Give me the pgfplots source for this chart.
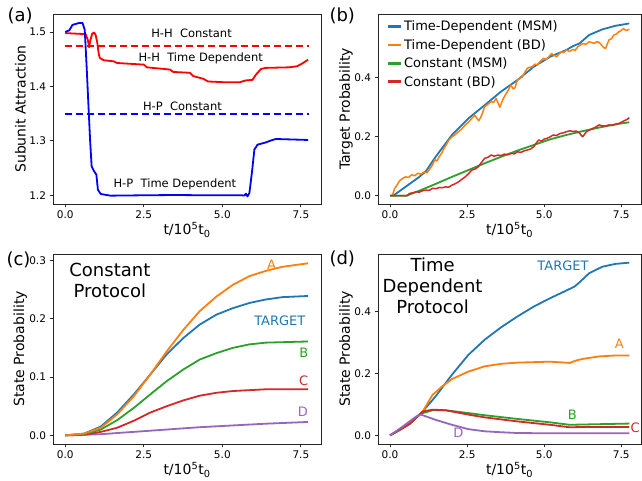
\documentclass[border=0pt]{standalone}
\usepackage{pgfplots}
\pgfplotsset{compat=1.18}
\usepackage{fontspec}
\setmainfont{DejaVu Sans}

\definecolor{tabblue}{HTML}{1F77B4}
\definecolor{taborange}{HTML}{FF7F0E}
\definecolor{tabgreen}{HTML}{2CA02C}
\definecolor{tabred}{HTML}{D62728}
\definecolor{tabpurple}{HTML}{9467BD}
\definecolor{purered}{HTML}{FF0000}
\definecolor{pureblue}{HTML}{0000FF}

\pgfplotsset{
  panel/.style={
    scale only axis, height=190pt,
    xmin=-0.39, xmax=8.14,
    xtick={0,2.5,5,7.5}, xticklabels={0.0,2.5,5.0,7.5},
    tick align=outside, xtick pos=left, ytick pos=left,
    major tick length=3.5pt,
    tick style={black!85, line width=0.8pt},
    axis line style={black!85, line width=0.8pt},
    ticklabel style={font=\fontsize{10.5}{12}\selectfont},
    label style={font=\fontsize{14}{16}\selectfont},
    xlabel={t/10\textsuperscript{5}t\textsubscript{0}},
    xlabel style={at={(axis description cs:0.5,-0.137)}, anchor=center},
    ylabel style={at={(axis description cs:-0.122,0.5)}, anchor=center},
    no markers, clip mode=individual,
    every axis plot/.append style={line width=1.8pt, line join=round},
  },
}
\tikzset{
  intext/.style={font=\fontsize{11.5}{13}\selectfont},
  curvelab/.style={font=\fontsize{13}{15}\selectfont},
}

\pgfplotstableread{
t    hh    hp
0    1.475 1.35
2.5  1.475 1.35
5    1.475 1.35
7.75 1.475 1.35
}\consttab

\begin{document}
\begin{tikzpicture}
\useasboundingbox (0,0) rectangle (642pt,481pt);

% (a) subunit attraction
\begin{axis}[panel, name=pa, at={(53pt,277pt)}, anchor=south west, width=268pt,
  ymin=1.184, ymax=1.533,
  ytick={1.2,1.3,1.4,1.5}, yticklabels={1.2,1.3,1.4,1.5},
  ylabel={Subunit Attraction}]
\addplot[draw=pureblue, line width=1.8pt, dash pattern=on 7pt off 4pt] table[x=t, y=hp] {\consttab};
\addplot[draw=purered, line width=1.9pt, dash pattern=on 7pt off 4pt] table[x=t, y=hh] {\consttab};
\addplot[color=purered] coordinates {
(0,1.498) (0.3,1.497) (0.65,1.496) (0.72,1.485) (0.76,1.472) (0.80,1.485)
(0.86,1.497) (0.92,1.499) (0.97,1.494) (1.02,1.48) (1.06,1.462) (1.1,1.452)
(1.23,1.448) (1.55,1.446) (1.65,1.443) (2.5,1.44) (2.6,1.435) (3.33,1.431)
(3.44,1.4265) (3.97,1.425) (4.07,1.419) (4.39,1.414) (4.55,1.409) (5.12,1.4075)
(5.54,1.4075) (5.75,1.411) (5.96,1.412) (6.07,1.4216) (6.23,1.432) (6.38,1.434)
(7.12,1.435) (7.38,1.437) (7.54,1.442) (7.73,1.449)};
\addplot[color=pureblue] coordinates {
(0,1.5) (0.13,1.503) (0.23,1.513) (0.44,1.5165) (0.55,1.5165) (0.62,1.504)
(0.68,1.437) (0.74,1.363) (0.79,1.302) (0.84,1.253) (0.92,1.244) (0.99,1.238)
(1.04,1.21) (1.13,1.2024) (1.44,1.1993) (2.5,1.2) (3.5,1.2005) (4.5,1.2)
(5.6,1.2) (5.7,1.1995) (5.75,1.203) (5.8,1.198) (5.86,1.204) (5.94,1.241)
(6.02,1.284) (6.12,1.293) (6.38,1.297) (6.5,1.2997) (6.7,1.3034) (7.73,1.3016)};
\node[intext] at (axis cs:4.02,1.498) {H-H\ \ Constant};
\node[intext] at (axis cs:4.31,1.452) {H-H\ \ Time Dependent};
\node[intext] at (axis cs:3.73,1.3635) {H-P\ \ Constant};
\node[intext] at (axis cs:3.49,1.221) {H-P\ \ Time Dependent};
\end{axis}

% (b) target probability
\begin{axis}[panel, name=pb, at={(378pt,277pt)}, anchor=south west, width=263pt,
  ymin=-0.028, ymax=0.616,
  ytick={0,0.2,0.4}, yticklabels={0.0,0.2,0.4},
  ylabel={Target Probability},
  legend style={at={(axis description cs:0.02,0.985)}, anchor=north west,
    draw=none, fill=none, font=\fontsize{13}{15}\selectfont, row sep=3pt},
  legend cell align=left,
  legend image code/.code={\draw[#1, line width=2.7pt] (0pt,0pt) -- (13pt,0pt);}]
\addplot[tabblue] coordinates {
(0.1,0) (0.5,0.03) (0.95,0.064) (1.17,0.084) (1.48,0.132) (2.01,0.206) (2.54,0.262)
(3.07,0.307) (3.6,0.353) (4.13,0.392) (4.66,0.437) (5.19,0.471) (5.72,0.494)
(5.93,0.507) (6.14,0.516) (6.46,0.545) (6.89,0.564) (7.31,0.576) (7.76,0.584)};
\addplot[taborange, line width=1.5pt] coordinates {
(0,0) (0.08,0.002) (0.15,0.025) (0.22,0.035) (0.32,0.052) (0.40,0.058) (0.50,0.064)
(0.60,0.062) (0.70,0.071) (0.80,0.068) (0.90,0.076) (1.00,0.073) (1.10,0.080)
(1.20,0.078) (1.30,0.092) (1.38,0.105) (1.45,0.122) (1.52,0.118) (1.60,0.133)
(1.68,0.145) (1.75,0.160) (1.82,0.172) (1.91,0.189) (2.01,0.200) (2.10,0.206)
(2.22,0.217) (2.32,0.226) (2.44,0.240) (2.55,0.250) (2.65,0.262) (2.75,0.273)
(2.82,0.262) (2.88,0.254) (2.97,0.272) (3.07,0.302) (3.15,0.308) (3.28,0.319)
(3.36,0.316) (3.44,0.330) (3.50,0.315) (3.56,0.300) (3.65,0.324) (3.73,0.340)
(3.81,0.353) (3.92,0.375) (4.00,0.362) (4.05,0.366) (4.13,0.392) (4.22,0.398)
(4.29,0.403) (4.37,0.418) (4.45,0.432) (4.55,0.436) (4.61,0.437) (4.70,0.446)
(4.78,0.443) (4.82,0.449) (4.90,0.458) (4.98,0.466) (5.06,0.461) (5.14,0.470)
(5.24,0.482) (5.32,0.476) (5.40,0.471) (5.48,0.480) (5.56,0.488) (5.64,0.486)
(5.72,0.494) (5.82,0.489) (5.93,0.496) (6.00,0.492) (6.09,0.505) (6.17,0.510)
(6.25,0.516) (6.35,0.513) (6.46,0.522) (6.55,0.519) (6.62,0.516) (6.70,0.522)
(6.78,0.520) (6.85,0.512) (6.92,0.503) (6.99,0.499) (7.05,0.515) (7.10,0.528)
(7.18,0.532) (7.26,0.545) (7.34,0.548) (7.42,0.556) (7.50,0.560) (7.57,0.567)
(7.65,0.560) (7.76,0.564)};
\addplot[tabgreen] coordinates {
(0,0) (0.53,0) (0.95,0.017) (1.48,0.04) (2.01,0.064) (2.54,0.087) (3.07,0.11)
(3.6,0.132) (4.13,0.153) (4.66,0.172) (5.19,0.191) (5.72,0.206) (6.25,0.219)
(6.78,0.231) (7.31,0.242) (7.76,0.249)};
\addplot[tabred, line width=1.5pt] coordinates {
(0,0) (0.55,0) (0.64,0.008) (0.75,0.010) (0.85,0.0136) (0.95,0.012) (1.05,0.017)
(1.17,0.019) (1.27,0.018) (1.38,0.025) (1.50,0.024) (1.60,0.028) (1.69,0.027)
(1.80,0.030) (1.90,0.029) (2.01,0.036) (2.10,0.040) (2.22,0.047) (2.32,0.055)
(2.44,0.064) (2.55,0.075) (2.65,0.087) (2.75,0.090) (2.86,0.098) (2.96,0.112)
(3.07,0.127) (3.17,0.130) (3.28,0.138) (3.38,0.134) (3.50,0.138) (3.60,0.136)
(3.71,0.141) (3.82,0.139) (3.92,0.143) (4.03,0.142) (4.13,0.149) (4.24,0.147)
(4.35,0.152) (4.45,0.155) (4.55,0.158) (4.66,0.166) (4.74,0.178) (4.82,0.189)
(4.92,0.185) (5.00,0.192) (5.08,0.194) (5.18,0.199) (5.30,0.206) (5.40,0.204)
(5.51,0.211) (5.62,0.213) (5.72,0.217) (5.83,0.220) (5.93,0.218) (6.04,0.219)
(6.14,0.213) (6.20,0.205) (6.25,0.200) (6.30,0.207) (6.36,0.216) (6.45,0.222)
(6.57,0.228) (6.68,0.233) (6.78,0.240) (6.88,0.237) (6.99,0.236) (7.10,0.240)
(7.20,0.238) (7.30,0.242) (7.42,0.245) (7.52,0.250) (7.63,0.256) (7.70,0.259)
(7.76,0.265)};
\legend{Time-Dependent (MSM),Time-Dependent (BD),Constant (MSM),Constant (BD)}
\end{axis}

% (c) constant protocol
\begin{axis}[panel, name=pc, at={(53pt,37pt)}, anchor=south west, width=268pt,
  ymin=-0.0148, ymax=0.311,
  ytick={0,0.1,0.2,0.3}, yticklabels={0.0,0.1,0.2,0.3},
  ylabel={State Probability}]
\addplot[tabpurple] coordinates {
(0,0) (1.13,0.002) (2.18,0.006) (3.23,0.01) (4.28,0.014) (5.33,0.017) (6.38,0.02) (7.73,0.023)};
\addplot[tabred] coordinates {
(0,0) (0.6,0.001) (1.13,0.006) (1.65,0.013) (2.18,0.025) (2.7,0.039) (3.23,0.05)
(3.76,0.06) (4.28,0.068) (4.81,0.073) (5.33,0.076) (6.38,0.079) (7.73,0.079)};
\addplot[tabgreen] coordinates {
(0,0) (0.6,0.002) (1.13,0.01) (1.65,0.026) (2.18,0.047) (2.7,0.07) (3.23,0.093)
(3.76,0.113) (4.28,0.13) (4.81,0.141) (5.33,0.15) (5.86,0.156) (6.38,0.159) (7.73,0.161)};
\addplot[tabblue] coordinates {
(0,0) (0.6,0.003) (1.13,0.015) (1.65,0.039) (2.18,0.07) (2.7,0.104) (3.23,0.139)
(3.76,0.167) (4.28,0.19) (4.81,0.207) (5.33,0.218) (5.86,0.227) (6.38,0.233)
(6.91,0.237) (7.73,0.239)};
\addplot[taborange] coordinates {
(0,0) (0.6,0.003) (1.13,0.013) (1.65,0.036) (2.18,0.067) (2.7,0.104) (3.23,0.144)
(3.76,0.181) (4.28,0.213) (4.81,0.238) (5.33,0.258) (5.86,0.273) (6.38,0.282)
(6.91,0.289) (7.44,0.293) (7.73,0.295)};
\node[curvelab, taborange] at (axis cs:6.57,0.293) {A};
\node[curvelab, tabblue] at (axis cs:6.83,0.196) {TARGET};
\node[curvelab, tabgreen] at (axis cs:7.59,0.1415) {B};
\node[curvelab, tabred] at (axis cs:7.59,0.093) {C};
\node[curvelab, tabpurple] at (axis cs:7.56,0.04) {D};
\node[font=\fontsize{18}{21}\selectfont, align=center] at (axis cs:1.42,0.265) {Constant\\Protocol};
\end{axis}

% (d) time dependent protocol
\begin{axis}[panel, name=pd, at={(378pt,37pt)}, anchor=south west, width=263pt,
  ymin=-0.028, ymax=0.586,
  ytick={0,0.2,0.4}, yticklabels={0.0,0.2,0.4},
  ylabel={State Probability}]
\addplot[tabblue] coordinates {
(0,0) (0.32,0.018) (0.64,0.04) (1.06,0.077) (1.48,0.126) (2.01,0.196) (2.54,0.26)
(3.07,0.309) (3.6,0.349) (4.13,0.384) (4.66,0.416) (5.19,0.443) (5.72,0.468)
(5.99,0.481) (6.14,0.494) (6.46,0.524) (6.89,0.545) (7.31,0.554) (7.76,0.558)};
\addplot[taborange] coordinates {
(0,0) (0.32,0.018) (0.64,0.038) (1.06,0.077) (1.38,0.131) (1.69,0.158) (2.01,0.182)
(2.54,0.206) (3.07,0.223) (3.6,0.231) (4.13,0.235) (5.19,0.238) (5.83,0.234)
(6.04,0.242) (6.25,0.247) (6.78,0.255) (7.31,0.258) (7.76,0.258)};
\addplot[tabgreen] coordinates {
(0,0) (0.32,0.018) (0.64,0.037) (1.0,0.07) (1.38,0.081) (1.8,0.081) (2.54,0.072)
(3.07,0.065) (4.13,0.053) (5.19,0.042) (5.83,0.034) (6.25,0.035) (7.76,0.038)};
\addplot[tabred] coordinates {
(0,0) (0.32,0.018) (0.64,0.037) (1.06,0.077) (1.38,0.083) (1.8,0.081) (2.54,0.067)
(3.07,0.058) (4.13,0.045) (5.19,0.034) (5.83,0.026) (6.25,0.027) (7.76,0.027)};
\addplot[tabpurple] coordinates {
(0,0) (0.42,0.029) (0.85,0.061) (1.0,0.067) (1.48,0.05) (2.01,0.034) (2.54,0.02)
(3.07,0.013) (3.6,0.01) (4.13,0.0075) (5.19,0.0065) (7.76,0.0065)};
\node[curvelab, tabblue] at (axis cs:5.61,0.547) {TARGET};
\node[curvelab, taborange] at (axis cs:7.44,0.296) {A};
\node[curvelab, tabgreen] at (axis cs:5.91,0.067) {B};
\node[curvelab, tabred] at (axis cs:7.95,0.024) {C};
\node[curvelab, tabpurple] at (axis cs:2.22,0.0075) {D};
\node[font=\fontsize{18}{21}\selectfont, align=center] at (axis cs:1.38,0.484) {Time\\Dependent\\Protocol};
\end{axis}

\node[anchor=west, font=\fontsize{18}{21}\selectfont] at ([xshift=-49pt,yshift=-2pt]pa.north west) {(a)};
\node[anchor=west, font=\fontsize{18}{21}\selectfont] at ([xshift=-52pt,yshift=-2pt]pb.north west) {(b)};
\node[anchor=west, font=\fontsize{18}{21}\selectfont] at ([xshift=-50pt,yshift=-6pt]pc.north west) {(c)};
\node[anchor=west, font=\fontsize{18}{21}\selectfont] at ([xshift=-52pt,yshift=-5pt]pd.north west) {(d)};
\end{tikzpicture}
\end{document}
